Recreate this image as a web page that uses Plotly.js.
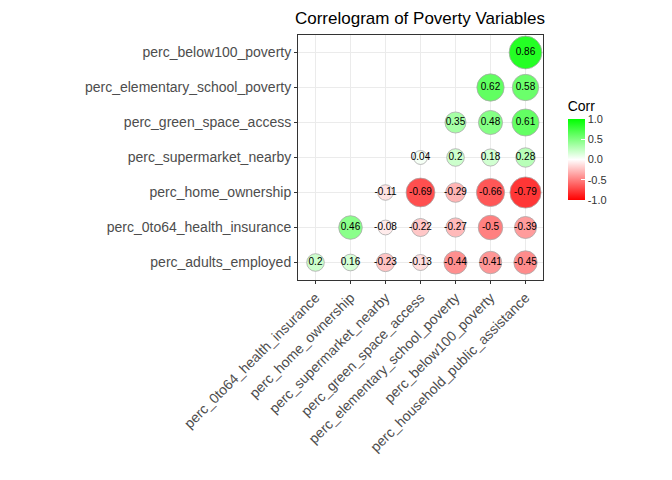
<!DOCTYPE html>
<html>
<head>
<script src="https://cdn.plot.ly/plotly-3.0.1.min.js"></script>
</head>
<body style="margin:0">
<div id="plot" style="width:672px;height:480px"></div>
<script>
var xLabels = ['perc_0to64_health_insurance', 'perc_home_ownership', 'perc_supermarket_nearby',
  'perc_green_space_access', 'perc_elementary_school_poverty', 'perc_below100_poverty',
  'perc_household_public_assistance'];
var yLabels = ['perc_adults_employed', 'perc_0to64_health_insurance', 'perc_home_ownership',
  'perc_supermarket_nearby', 'perc_green_space_access', 'perc_elementary_school_poverty',
  'perc_below100_poverty'];
// lower triangle, row i starts at column i
var corrRows = [
  [0.2, 0.16, -0.23, -0.13, -0.44, -0.41, -0.45],
  [0.46, -0.08, -0.22, -0.27, -0.5, -0.39],
  [-0.11, -0.69, -0.29, -0.66, -0.79],
  [0.04, 0.2, 0.18, 0.28],
  [0.35, 0.48, 0.61],
  [0.62, 0.58],
  [0.86]
];

var xs = [], ys = [], vals = [], sizes = [], texts = [];
corrRows.forEach(function(row, i) {
  row.forEach(function(v, k) {
    xs.push(xLabels[i + k]);
    ys.push(yLabels[i]);
    vals.push(v);
    sizes.push(13 + 23 * Math.abs(v));
    texts.push(String(v));
  });
});

var trace = {
  type: 'scatter',
  mode: 'markers+text',
  x: xs, y: ys, text: texts,
  textfont: {size: 10, color: 'black', family: 'Liberation Sans'},
  hoverinfo: 'skip',
  opacity: 1,
  marker: {
    size: sizes, color: vals, cmin: -1, cmax: 1, opacity: 1,
    colorscale: [[0, '#ff0000'], [0.5, '#ffffff'], [1, '#00ff00']],
    line: {color: '#aaaaaa', width: 0.8},
    colorbar: {
      title: {text: 'Corr', font: {size: 14, color: 'black'}},
      tickvals: [1, 0.5, 0, -0.5, -1],
      ticktext: ['1.0', '0.5', '0.0', '-0.5', '-1.0'],
      tickfont: {size: 11, color: '#333333'},
      thickness: 17, len: 122, lenmode: 'pixels',
      x: 1.06, xanchor: 'left', y: 0.535, yanchor: 'middle',
      outlinewidth: 0, ticks: 'inside', ticklen: 4, tickcolor: 'white'
    }
  },
  showlegend: false
};

var layout = {
  width: 672, height: 480,
  margin: {l: 298, r: 129, t: 35, b: 200},
  paper_bgcolor: 'white', plot_bgcolor: 'white',
  font: {family: 'Liberation Sans', color: '#4d4d4d'},
  title: {text: 'Correlogram of Poverty Variables', font: {size: 17, color: 'black'},
    x: 0.625, xanchor: 'center', y: 0.975},
  xaxis: {type: 'category', categoryarray: xLabels, categoryorder: 'array',
    range: [-0.5, 6.5], tickangle: -45, tickfont: {size: 14, color: '#4d4d4d'},
    showgrid: true, gridcolor: '#ebebeb', showline: true, linecolor: '#333333', mirror: true,
    ticks: 'outside', ticklen: 3, tickcolor: '#333333', zeroline: false},
  yaxis: {type: 'category', categoryarray: yLabels, categoryorder: 'array',
    range: [-0.5, 6.5], tickfont: {size: 14, color: '#4d4d4d'},
    showgrid: true, gridcolor: '#ebebeb', showline: true, linecolor: '#333333', mirror: true,
    ticks: 'outside', ticklen: 3, tickcolor: '#333333', zeroline: false}
};

Plotly.newPlot('plot', [trace], layout, {displayModeBar: false});
</script>
</body>
</html>
